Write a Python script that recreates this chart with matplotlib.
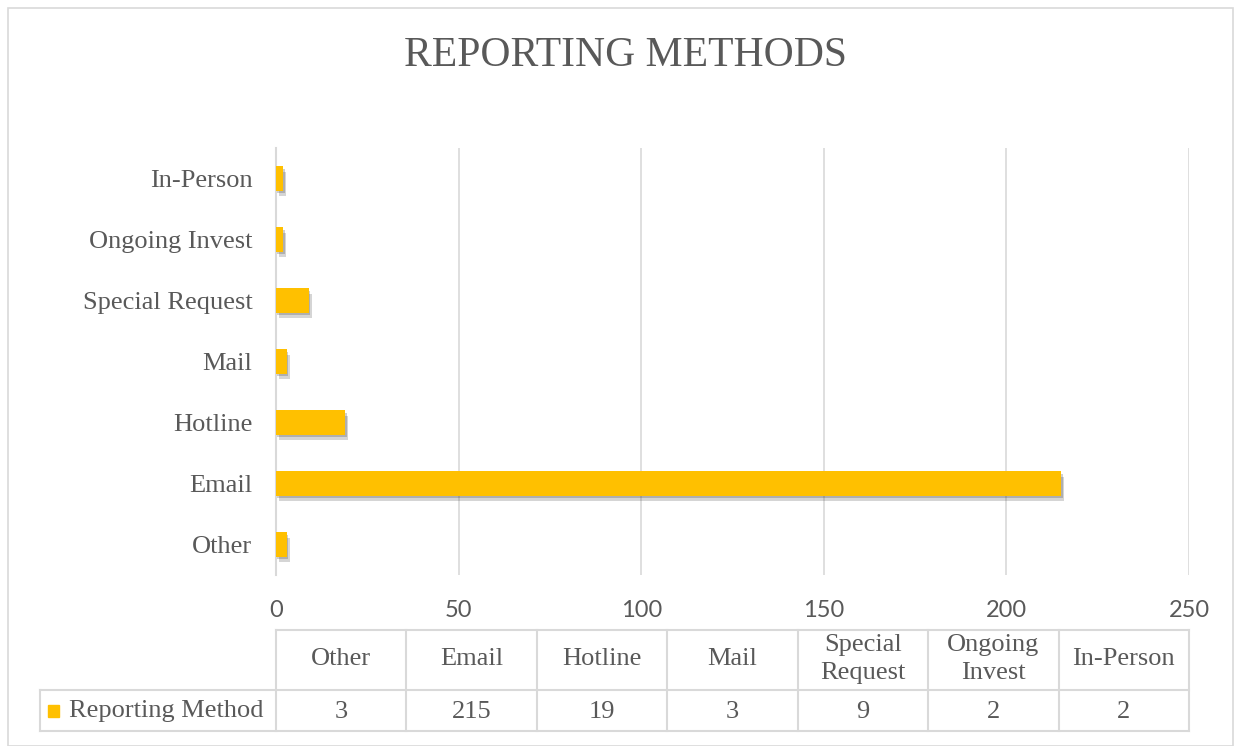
import matplotlib.pyplot as plt
import matplotlib.patheffects as pe
from matplotlib.patches import Rectangle

# ---------------------------  DATA  -------------------------------------- #
categories = ['Other', 'Email', 'Hotline', 'Mail', 'Special Request', 'Ongoing Invest', 'In-Person']
table_heads = ['Other', 'Email', 'Hotline', 'Mail', 'Special\nRequest', 'Ongoing\nInvest', 'In-Person']
counts = [3, 215, 19, 3, 9, 2, 2]
series_name = 'Reporting Method'
x_ticks = [0, 50, 100, 150, 200, 250]

# ---------------------------  STYLE  -------------------------------------- #
gold = '#FFC000'
text_grey = '#595959'
line_grey = '#D9D9D9'
serif = ['Liberation Serif', 'DejaVu Serif']
sans = ['Lato', 'DejaVu Sans']

W, H = 1241, 746
fig = plt.figure(figsize=(W / 100, H / 100), dpi=100)

def px(x0, y0, x1, y1):
    # pixel box -> figure fraction [left, bottom, width, height]
    return [x0 / W, 1 - y1 / H, (x1 - x0) / W, (y1 - y0) / H]

# outer frame
fig.patches.append(Rectangle((8 / W, 0), 1 - 16 / W, 1 - 8 / H, transform=fig.transFigure,
                             fill=False, edgecolor=line_grey, linewidth=1.2))

fig.text(625 / W, 1 - 56 / H, 'REPORTING METHODS', ha='center', va='center',
         fontsize=30, color=text_grey, family=serif)

# ---------------------------  BAR CHART  -------------------------------------- #
ax = fig.add_axes(px(276, 148, 1189, 575))
ypos = list(range(len(categories)))
bars = ax.barh(ypos, counts, height=0.4, color=gold, zorder=3)
for b in bars:
    b.set_path_effects([pe.SimplePatchShadow(offset=(2, -4), shadow_rgbFace='#404040', alpha=0.22),
                        pe.SimplePatchShadow(offset=(1, -2), shadow_rgbFace='#404040', alpha=0.25),
                        pe.Normal()])

ax.set_xlim(0, 250)
ax.set_ylim(-0.5, len(categories) - 0.5)
ax.set_xticks(x_ticks)
ax.set_yticks(ypos)
ax.set_yticklabels(categories, family=serif, fontsize=19, color=text_grey)
ax.set_xticklabels([str(t) for t in x_ticks], family=sans, fontsize=17, color=text_grey)
ax.tick_params(length=0)
ax.tick_params(axis='x', pad=18)
ax.tick_params(axis='y', pad=17)
ax.grid(axis='x', color=line_grey, linewidth=1.2, zorder=0)
for s in ['top', 'right', 'bottom']:
    ax.spines[s].set_visible(False)
ax.spines['left'].set_color(line_grey)
ax.spines['left'].set_linewidth(1.5)

# ---------------------------  DATA TABLE  -------------------------------------- #
tab = fig.add_axes(px(276, 630, 1189, 731))
tab.set_xlim(0, len(categories))
tab.set_ylim(0, 101)
tab.axis('off')
row_split = 41  # value row height (pixels) out of 101
col_w = 913 / len(categories)
left_extent = -(276 - 40) / col_w

kw = dict(color=line_grey, linewidth=1.5, clip_on=False)
tab.plot([0, len(categories)], [101, 101], **kw)
tab.plot([left_extent, len(categories)], [row_split, row_split], **kw)
tab.plot([left_extent, len(categories)], [0, 0], **kw)
tab.plot([left_extent, left_extent], [0, row_split], **kw)
for i in range(len(categories) + 1):
    tab.plot([i, i], [0, 101], **kw)

for i, (head, val) in enumerate(zip(table_heads, counts)):
    tab.text(i + 0.5, (101 + row_split) / 2 + 1, head, ha='center', va='center',
             fontsize=19, color=text_grey, family=serif, linespacing=1.3)
    tab.text(i + 0.5, row_split / 2 - 1, str(val), ha='center', va='center',
             fontsize=19, color=text_grey, family=serif)

tab.add_patch(Rectangle((left_extent + 8 / col_w, row_split / 2 - 6), 11 / col_w, 12,
                        color=gold, clip_on=False))
tab.text(left_extent + 29 / col_w, row_split / 2 - 1, series_name, ha='left', va='center',
         fontsize=19, color=text_grey, family=serif)

fig.savefig('out.png', dpi=100)
